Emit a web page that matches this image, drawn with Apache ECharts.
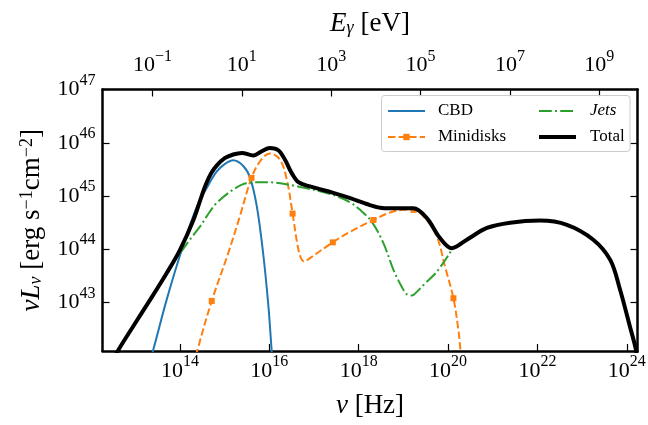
<!DOCTYPE html>
<html>
<head>
<meta charset="utf-8">
<script src="https://cdn.jsdelivr.net/npm/echarts@6/dist/echarts.min.js"></script>
<style>
  html, body { margin: 0; padding: 0; background: #fff; }
  #chart { width: 648px; height: 425px; }
</style>
</head>
<body>
<div id="chart"></div>
<script>
// Spectral energy distribution: log10(nu / Hz) and log10(nu L_nu / erg s^-1 cm^-2)
const cbdNu  = [13.30, 13.40, 13.70, 14.04, 14.37, 14.67, 14.82, 15.00, 15.19, 15.42, 15.57, 15.72, 15.86, 15.98, 16.05, 16.09];
const cbdL   = [41.85, 42.11, 43.05, 43.99, 44.78, 45.26, 45.46, 45.60, 45.67, 45.56, 45.34, 44.80, 43.93, 42.92, 42.11, 41.70];

const miniNu = [14.30, 14.39, 14.71, 15.08, 15.34, 15.60, 15.79, 16.01, 16.24, 16.39, 16.52, 16.63, 16.70, 16.78, 16.90, 17.42, 17.81, 18.33, 18.70, 19.00, 19.23, 19.52, 19.75, 19.93, 20.12, 20.23, 20.27, 20.31];
const miniL  = [41.80, 42.11, 43.03, 43.93, 44.62, 45.34, 45.65, 45.80, 45.68, 45.31, 44.67, 44.08, 43.85, 43.77, 43.83, 44.13, 44.33, 44.55, 44.69, 44.74, 44.74, 44.55, 44.24, 43.68, 43.08, 42.49, 42.17, 41.80];
// points of the minidisk curve that carry a square marker
const miniMarks = [2, 5, 10, 15, 17, 20, 24];

const jetNu  = [12.50, 12.62, 13.00, 13.33, 13.51, 13.70, 13.93, 14.22, 14.45, 14.67, 14.82, 15.19, 15.49, 15.94, 16.69, 17.43, 17.81, 18.03, 18.29, 18.55, 18.78, 18.96, 19.07, 19.19, 19.30, 19.45, 19.75, 20.06];
const jetL   = [41.92, 42.09, 42.62, 43.04, 43.30, 43.57, 43.84, 44.18, 44.43, 44.71, 44.87, 45.12, 45.24, 45.26, 45.17, 45.02, 44.88, 44.74, 44.52, 44.12, 43.61, 43.30, 43.16, 43.13, 43.20, 43.33, 43.58, 43.96];

const totNu  = [12.50, 12.62, 12.95, 13.33, 13.70, 14.00, 14.30, 14.48, 14.58, 14.70, 14.82, 15.00, 15.19, 15.38, 15.64, 15.83, 16.01, 16.20, 16.35, 16.50, 16.65, 16.91, 17.43, 17.81, 18.18, 18.48, 18.70, 18.92, 19.22, 19.52, 19.82, 20.08, 20.42, 20.87, 21.39, 22.06, 22.66, 23.25, 23.63, 23.85, 24.07, 24.19, 24.26];
const totL   = [41.92, 42.11, 42.55, 43.05, 43.55, 43.99, 44.55, 44.99, 45.22, 45.43, 45.57, 45.71, 45.78, 45.81, 45.76, 45.84, 45.90, 45.86, 45.68, 45.43, 45.26, 45.18, 45.06, 44.96, 44.85, 44.78, 44.77, 44.77, 44.77, 44.59, 44.21, 44.02, 44.18, 44.40, 44.50, 44.54, 44.46, 44.18, 43.80, 43.24, 42.55, 42.17, 41.85];

// axis ranges (log10) and tick positions
const nuRange = [12.265, 24.24];
const lRange  = [42.09, 47];
const nuTicks = [14, 16, 18, 20, 22, 24];
const lTicks  = [43, 44, 45, 46, 47];
const eTicks  = [-1, 1, 3, 5, 7, 9];

const H_EV = 4.135667696e-15; // Planck constant, eV s

const SERIF = 'Liberation Serif';
const pow10 = e => Math.pow(10, e);
const toPairs = (xs, ys) => xs.map((x, i) => [pow10(x), pow10(ys[i])]);

const supRich = {
  b: { fontFamily: SERIF, fontSize: 22, color: '#000', padding: [6, 0, 0, 0], verticalAlign: 'bottom' },
  s: { fontFamily: SERIF, fontSize: 16, color: '#000', verticalAlign: 'top' }
};
const powLabel = v => {
  const e = Math.round(Math.log10(v));
  return '{b|10}{s|' + (e < 0 ? '\u2212' + (-e) : e) + '}';
};

const NAME_SIZE = 27;
const frame = { show: true, lineStyle: { color: '#000', width: 2.5 } };
const tickIn = vals => ({ show: true, inside: true, length: 7, lineStyle: { color: '#000', width: 1.2 }, customValues: vals });

const chart = echarts.init(document.getElementById('chart'), null, { renderer: 'canvas' });

const miniData = toPairs(miniNu, miniL).map((p, i) =>
  miniMarks.includes(i) ? { value: p } : { value: p, symbol: 'none' });

chart.setOption({
  animation: false,
  backgroundColor: '#fff',
  grid: { left: 102.5, right: 10.5, top: 89.5, bottom: 74, outerBoundsMode: 'none' },
  xAxis: [
    {
      type: 'log', logBase: 10, position: 'bottom',
      min: pow10(nuRange[0]), max: pow10(nuRange[1]),
      axisLine: frame, axisTick: tickIn(nuTicks.map(pow10)),
      minorTick: { show: false }, splitLine: { show: false },
      axisLabel: { customValues: nuTicks.map(pow10), formatter: powLabel, rich: supRich, margin: 3 },
      name: '{i|\u03bd} [Hz]', nameLocation: 'middle', nameGap: 41,
      nameTextStyle: { fontFamily: SERIF, fontSize: NAME_SIZE, color: '#000',
        rich: { i: { fontFamily: SERIF, fontStyle: 'italic', fontSize: NAME_SIZE, color: '#000' } } }
    },
    {
      type: 'log', logBase: 10, position: 'top',
      min: H_EV * pow10(nuRange[0]), max: H_EV * pow10(nuRange[1]),
      axisLine: frame, axisTick: tickIn(eTicks.map(pow10)),
      minorTick: { show: false }, splitLine: { show: false },
      axisLabel: { customValues: eTicks.map(pow10), formatter: powLabel, rich: supRich, margin: 13 },
      name: '{i|E}{sub|\u03b3} [eV]', nameLocation: 'middle', nameGap: 52,
      nameTextStyle: { fontFamily: SERIF, fontSize: NAME_SIZE, color: '#000',
        rich: {
          i: { fontFamily: SERIF, fontStyle: 'italic', fontSize: NAME_SIZE, color: '#000' },
          sub: { fontFamily: SERIF, fontStyle: 'italic', fontSize: 18, color: '#000', verticalAlign: 'bottom' }
        } }
    }
  ],
  yAxis: [
    {
      type: 'log', logBase: 10, position: 'left',
      min: pow10(lRange[0]), max: pow10(lRange[1]),
      axisLine: frame, axisTick: tickIn(lTicks.map(pow10)),
      minorTick: { show: false }, splitLine: { show: false },
      axisLabel: { customValues: lTicks.map(pow10), formatter: powLabel, rich: supRich, margin: 7, padding: [0, 0, 6, 0] },
      name: '{i|\u03bdL}{sub|\u03bd} [erg s{sup|\u22121}cm{sup|\u22122}]',
      nameLocation: 'middle', nameGap: 57, nameRotate: 90,
      nameTextStyle: { fontFamily: SERIF, fontSize: NAME_SIZE, color: '#000',
        rich: {
          i: { fontFamily: SERIF, fontStyle: 'italic', fontSize: NAME_SIZE, color: '#000' },
          sub: { fontFamily: SERIF, fontStyle: 'italic', fontSize: 18, color: '#000', verticalAlign: 'bottom' },
          sup: { fontFamily: SERIF, fontSize: 18, color: '#000', verticalAlign: 'top' }
        } }
    },
    {
      type: 'log', logBase: 10, position: 'right',
      min: pow10(lRange[0]), max: pow10(lRange[1]),
      axisLine: frame, axisTick: tickIn(lTicks.map(pow10)),
      minorTick: { show: false }, splitLine: { show: false },
      axisLabel: { show: false }
    }
  ],
  legend: [
    {
      orient: 'vertical', left: 387, top: 102.5, itemWidth: 37, itemHeight: 8, itemGap: 9,
      padding: 0, z: 6,
      textStyle: { fontFamily: SERIF, fontSize: 17, color: '#000', padding: [0, 0, 0, 8] },
      data: [
        { name: 'CBD', itemStyle: { opacity: 0 } },
        { name: 'Minidisks' }
      ]
    },
    {
      orient: 'vertical', left: 537, top: 102.5, itemWidth: 37, itemHeight: 8, itemGap: 9,
      padding: 0, z: 6,
      textStyle: { fontFamily: SERIF, fontSize: 17, color: '#000', padding: [0, 0, 0, 9] },
      data: [
        { name: 'Jets', itemStyle: { opacity: 0 }, textStyle: { fontStyle: 'italic' } },
        { name: 'Total', itemStyle: { opacity: 0 }, lineStyle: { width: 4 } }
      ]
    }
  ],
  graphic: [
    {
      type: 'rect', z: 5,
      shape: { x: 381.5, y: 95.5, width: 248.5, height: 56, r: 3 },
      style: { fill: 'rgba(255,255,255,0.8)', stroke: '#cccccc', lineWidth: 1 }
    }
  ],
  series: [
    {
      name: 'CBD', type: 'line', data: toPairs(cbdNu, cbdL),
      smooth: 0.35, symbol: 'none', clip: true,
      lineStyle: { color: '#1f77b4', width: 2 }, itemStyle: { color: '#1f77b4' }, z: 2
    },
    {
      name: 'Minidisks', type: 'line', data: miniData,
      smooth: 0.35, symbol: 'rect', symbolSize: 6, showSymbol: true, clip: true,
      lineStyle: { color: '#ff7f0e', width: 2, type: [7.4, 3.2] },
      itemStyle: { color: '#ff7f0e' }, z: 2
    },
    {
      name: 'Jets', type: 'line', data: toPairs(jetNu, jetL),
      smooth: 0.35, symbol: 'none', clip: true,
      lineStyle: { color: '#2ca02c', width: 2, type: [12.8, 3.2, 2, 3.2] },
      itemStyle: { color: '#2ca02c' }, z: 2
    },
    {
      name: 'Total', type: 'line', data: toPairs(totNu, totL),
      smooth: 0.35, symbol: 'none', clip: true,
      lineStyle: { color: '#000', width: 4 }, itemStyle: { color: '#000' }, z: 4
    }
  ]
});
</script>
</body>
</html>
